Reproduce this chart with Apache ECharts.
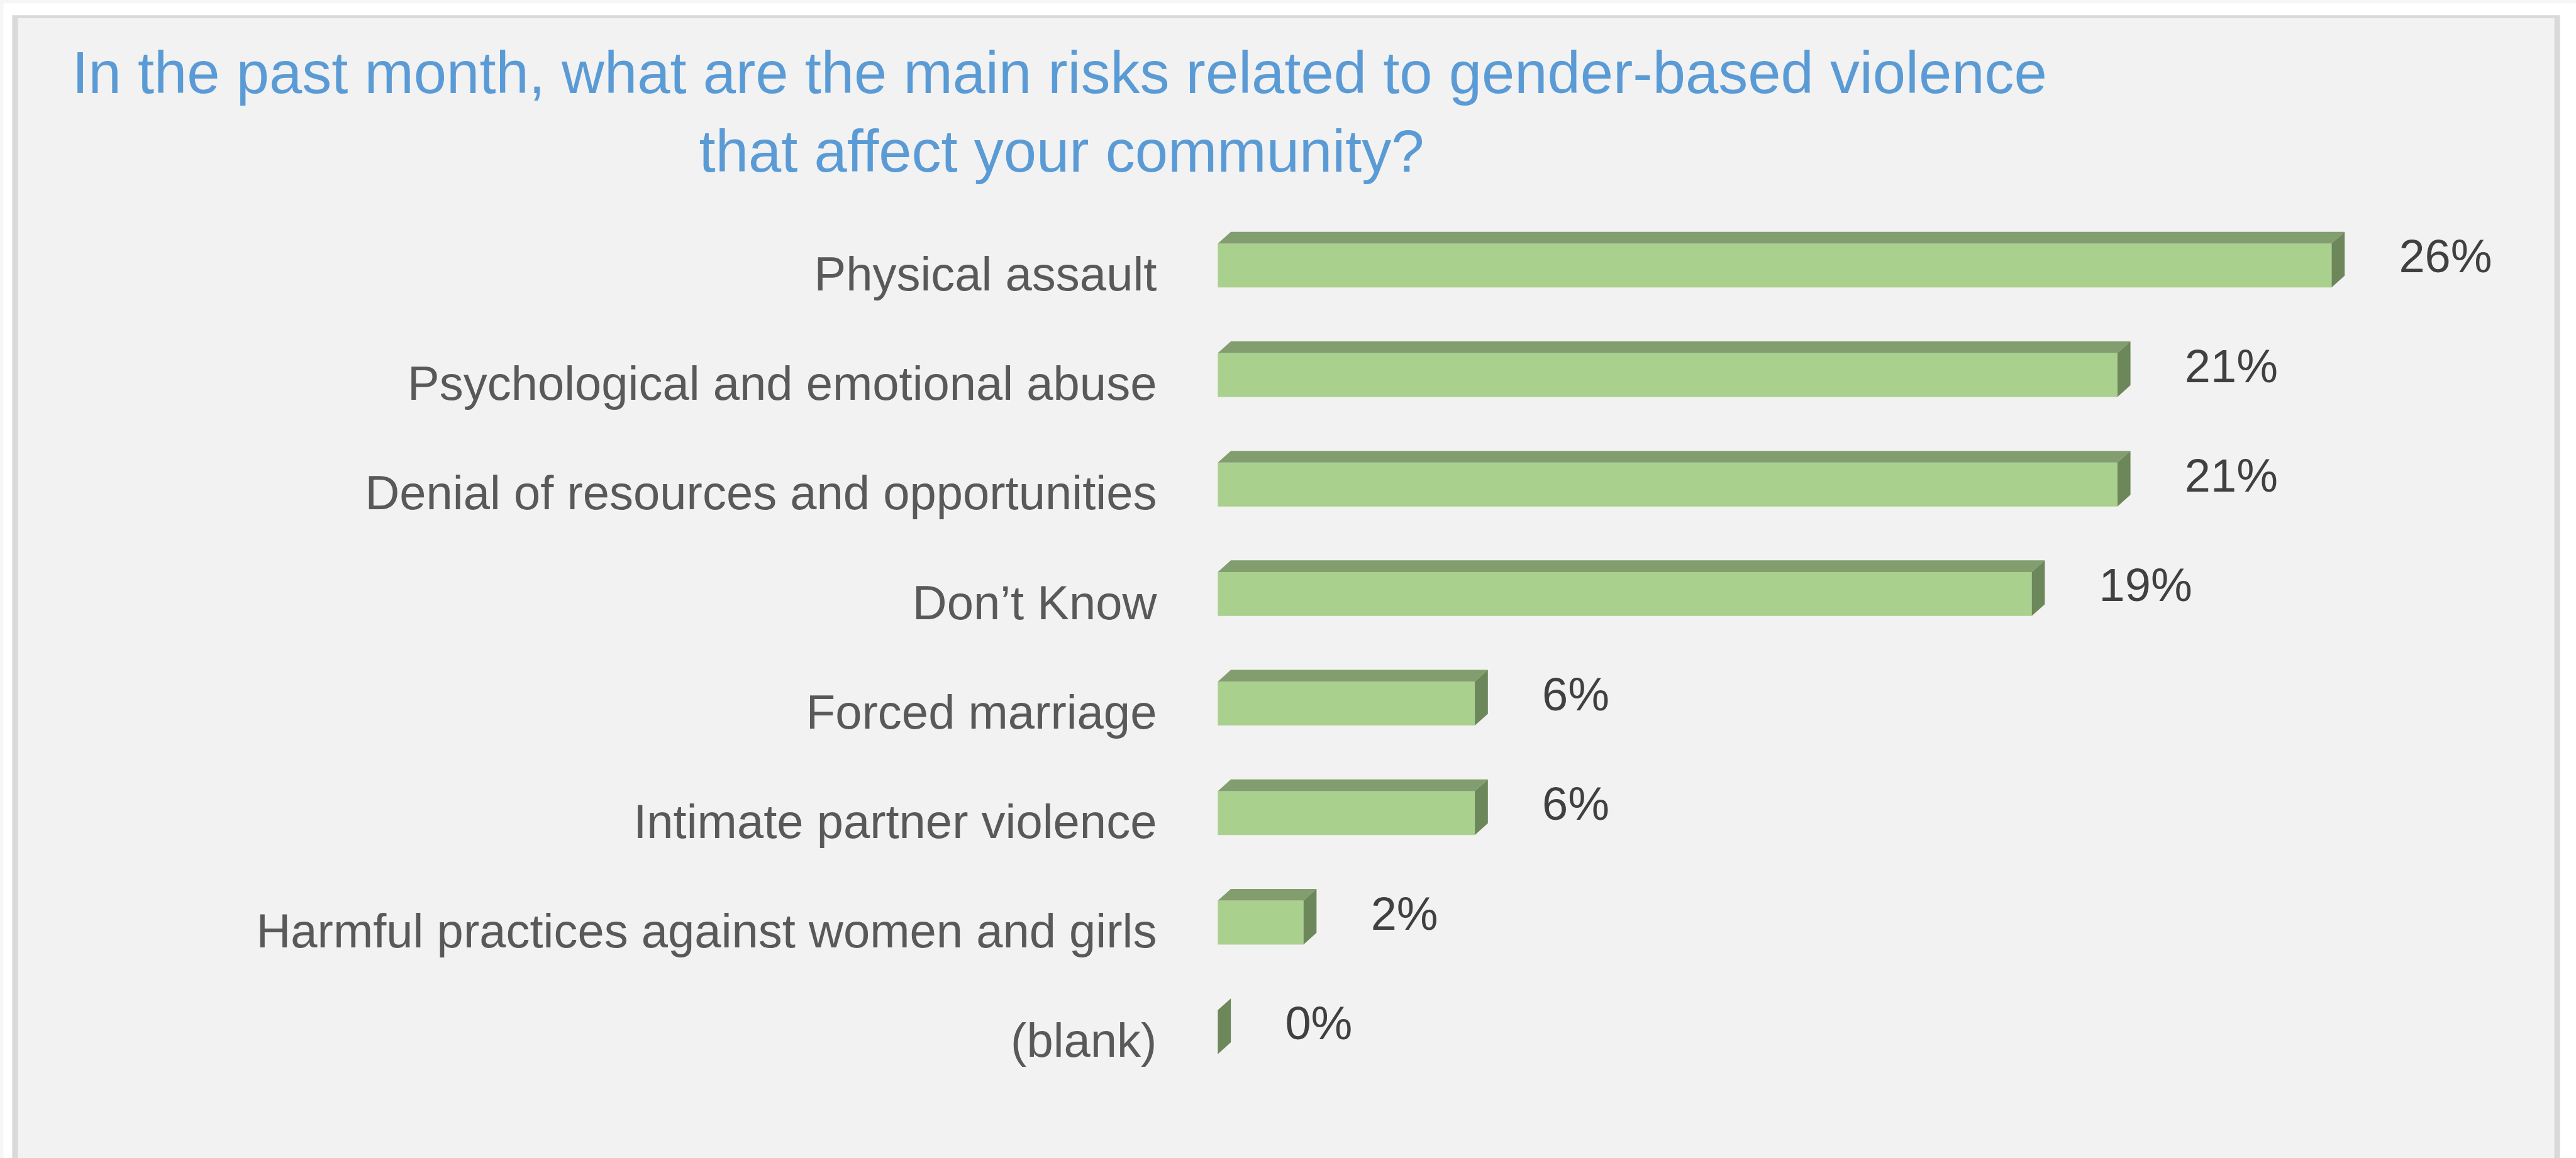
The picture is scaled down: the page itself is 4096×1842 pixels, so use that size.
<!DOCTYPE html>
<html>
<head>
<meta charset="utf-8">
<script src="https://cdn.jsdelivr.net/npm/echarts@6/dist/echarts.min.js"></script>
<style>
  html, body { margin: 0; padding: 0; background: #ffffff; }
  #chart { width: 4096px; height: 1842px; }
</style>
</head>
<body>
<div id="chart"></div>
<script>
// Survey question, answer categories and their shares (%)
const titleLines = [
  'In the past month, what are the main risks related to gender-based violence',
  'that affect your community?'
];
const categories = [
  'Physical assault',
  'Psychological and emotional abuse',
  'Denial of resources and opportunities',
  'Don’t Know',
  'Forced marriage',
  'Intimate partner violence',
  'Harmful practices against women and girls',
  '(blank)'
];
const shares = [26, 21, 21, 19, 6, 6, 2, 0];

const FONT = '"Liberation Sans", Arial, sans-serif';
const FRONT = '#aad08e';
const TOP = '#829e6e';
const SIDE = '#6c875a';

const chart = echarts.init(document.getElementById('chart'), null, { renderer: 'canvas' });

// Pseudo-3D horizontal bar: front face, top face and right side face
function renderBar(params, api) {
  const v = api.value(0);
  const idx = api.value(1);
  const start = api.coord([0, idx]);
  const end = api.coord([v, idx]);
  const band = api.size([0, 1])[1];
  const h = band * 0.401;      // front face height
  const dy = band * 0.107;     // depth, vertical
  const dx = band * 0.119;     // depth, horizontal
  const yc = start[1];
  const fTop = yc - (h + dy) / 2 + dy;
  const fBot = fTop + h;
  const x0 = start[0];
  const x1 = end[0];
  return {
    type: 'group',
    children: [
      {
        type: 'rect',
        shape: { x: x0, y: fTop, width: x1 - x0, height: h },
        style: { fill: FRONT }
      },
      {
        type: 'polygon',
        shape: { points: [[x0, fTop], [x1, fTop], [x1 + dx, fTop - dy], [x0 + dx, fTop - dy]] },
        style: { fill: TOP }
      },
      {
        type: 'polygon',
        shape: { points: [[x1, fTop], [x1 + dx, fTop - dy], [x1 + dx, fBot - dy], [x1, fBot]] },
        style: { fill: SIDE }
      },
      {
        type: 'text',
        x: x1 + 107,
        y: yc,
        style: {
          text: v + '%',
          fill: '#404040',
          font: '74px ' + FONT,
          align: 'left',
          verticalAlign: 'middle'
        }
      }
    ]
  };
}

const option = {
  animation: false,
  graphic: [
    { type: 'rect', z: -20, shape: { x: 0, y: 0, width: 4096, height: 1842 }, style: { fill: '#f6f6f6' } },
    { type: 'rect', z: -19, shape: { x: 5.5, y: 5.5, width: 4090.5, height: 1836.5 }, style: { fill: '#ffffff' } },
    { type: 'rect', z: -18, shape: { x: 19.4, y: 24.2, width: 4051.2, height: 1830 }, style: { fill: '#d9d9d9' } },
    { type: 'rect', z: -17, shape: { x: 28.4, y: 29.0, width: 4033.2, height: 1830 }, style: { fill: '#f2f2f2' } },
    {
      type: 'text', z: 5, x: 1684.6, y: 121.8,
      style: { text: titleLines[0], fill: '#5b9bd5', font: '94px ' + FONT, align: 'center', verticalAlign: 'middle' }
    },
    {
      type: 'text', z: 5, x: 1688, y: 247,
      style: { text: titleLines[1], fill: '#5b9bd5', font: '94px ' + FONT, align: 'center', verticalAlign: 'middle' }
    }
  ],
  grid: { left: 1936.4, top: 325.9, width: 2043.5, height: 1393.6 },
  xAxis: {
    type: 'value',
    min: 0,
    max: 30,
    show: false
  },
  yAxis: {
    type: 'category',
    data: categories,
    inverse: true,
    axisLine: { show: false },
    axisTick: { show: false },
    splitLine: { show: false },
    axisLabel: {
      margin: 97,
      color: '#595959',
      fontFamily: FONT,
      fontSize: 76,
      verticalAlign: 'top',
      lineHeight: 56
    }
  },
  series: [{
    type: 'custom',
    renderItem: renderBar,
    encode: { x: 0, y: 1 },
    data: shares.map((v, i) => [v, i]),
    clip: false
  }]
};

chart.setOption(option);
</script>
</body>
</html>
